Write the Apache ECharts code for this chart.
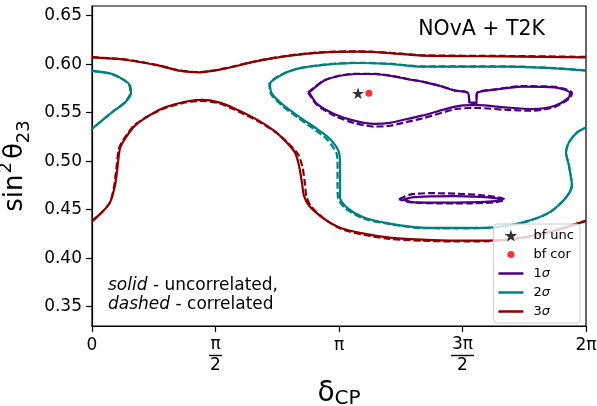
<!DOCTYPE html>
<html>
<head>
<meta charset="utf-8">
<script src="https://cdn.jsdelivr.net/npm/echarts@6/dist/echarts.min.js"></script>
<style>
    html, body { margin: 0; padding: 0; background: #fff; }
    #chart { width: 597px; height: 406px; }
</style>
</head>
<body>
<div id="chart"></div>
<script>
// x values are delta_CP in units of pi
var xTicks = [0, 0.5, 1, 1.5, 2];
var xTickLabels = ['0', '{n|π}\n{b1| }\n{d|2}', 'π', '{n|3π}\n{b3| }\n{d|2}', '2π'];
var yTicks = [0.35, 0.40, 0.45, 0.50, 0.55, 0.60, 0.65];

// best fit points
var bfUnc = [[1.077, 0.570]];
var bfCor = [[1.121, 0.570]];

// 3 sigma - upper band edge
var sig3TopUnc = [[0,0.607],[0.134,0.6046],[0.271,0.5985],[0.352,0.5933],[0.433,0.5915],[0.538,0.5954],[0.668,0.6031],[0.802,0.6088],[0.939,0.6122],[1.073,0.6129],[1.206,0.6115],[1.336,0.6088],[1.672,0.6080],[2.0,0.6070]];
var sig3TopCor = [[0,0.6072],[0.134,0.6049],[0.271,0.5988],[0.352,0.5936],[0.433,0.5918],[0.538,0.5957],[0.668,0.6034],[0.802,0.6091],[0.939,0.6125],[1.073,0.6132],[1.206,0.6118],[1.336,0.6092],[1.672,0.6085],[2.0,0.6075]];
// 3 sigma - lower band edge
var sig3BotUnc = [[0,0.4381],[0.040,0.4472],[0.073,0.4575],[0.093,0.4747],[0.101,0.4885],[0.113,0.5129],[0.134,0.5232],[0.174,0.5366],[0.231,0.5469],[0.296,0.5555],[0.377,0.5613],[0.445,0.5631],[0.514,0.5606],[0.579,0.5541],[0.668,0.5428],[0.737,0.5314],[0.789,0.5191],[0.822,0.5088],[0.838,0.4954],[0.850,0.4778],[0.858,0.4644],[0.879,0.4541],[0.939,0.4407],[1.004,0.4314],[1.101,0.4253],[1.206,0.4211],[1.336,0.4191],[1.470,0.4180],[1.607,0.4180],[1.741,0.4211],[1.874,0.4284],[2.0,0.4387]];
var sig3BotCor = [[0,0.4381],[0.040,0.4472],[0.073,0.4575],[0.090,0.4747],[0.097,0.4885],[0.109,0.5129],[0.130,0.5232],[0.170,0.5366],[0.228,0.5465],[0.296,0.5548],[0.377,0.5605],[0.445,0.5622],[0.514,0.5597],[0.579,0.5530],[0.672,0.5412],[0.745,0.5296],[0.800,0.5170],[0.835,0.5068],[0.852,0.4940],[0.862,0.4770],[0.868,0.4640],[0.888,0.4530],[0.947,0.4392],[1.012,0.4298],[1.105,0.4238],[1.206,0.4198],[1.336,0.4180],[1.470,0.4172],[1.607,0.4175],[1.741,0.4208],[1.874,0.4282],[2.0,0.4385]];

// 2 sigma - small region at left edge
var sig2LeftUnc = [[0,0.5933],[0.081,0.5899],[0.134,0.5830],[0.154,0.5778],[0.158,0.5703],[0.134,0.5606],[0.081,0.5503],[0,0.5332]];
var sig2LeftCor = [[0,0.5930],[0.081,0.5897],[0.134,0.5828],[0.152,0.5778],[0.155,0.5703],[0.132,0.5606],[0.080,0.5503],[0,0.5334]];
// 2 sigma - main region
var sig2MainUnc = [[2.0,0.5933],[1.874,0.5957],[1.672,0.5974],[1.336,0.5974],[1.206,0.6002],[1.073,0.6012],[0.939,0.5992],[0.830,0.5951],[0.761,0.5881],[0.721,0.5796],[0.729,0.5693],[0.777,0.5572],[0.842,0.5452],[0.911,0.5332],[0.964,0.5229],[1.0,0.5091],[1.004,0.4954],[1.004,0.4778],[1.004,0.4624],[1.032,0.4521],[1.101,0.4418],[1.206,0.4356],[1.336,0.4314],[1.470,0.4311],[1.607,0.4314],[1.741,0.4366],[1.850,0.4469],[1.915,0.4613],[1.943,0.4747],[1.931,0.4954],[1.919,0.5091],[1.931,0.5194],[1.964,0.5297],[2.0,0.5348]];
var sig2MainCor = [[2.0,0.5936],[1.874,0.5960],[1.672,0.5977],[1.336,0.5977],[1.206,0.6005],[1.073,0.6015],[0.939,0.5995],[0.830,0.5954],[0.761,0.5884],[0.718,0.5796],[0.725,0.5690],[0.772,0.5566],[0.836,0.5444],[0.903,0.5322],[0.955,0.5216],[0.990,0.5080],[0.994,0.4950],[0.994,0.4780],[0.996,0.4620],[1.026,0.4512],[1.097,0.4410],[1.206,0.4350],[1.336,0.4310],[1.470,0.4307],[1.607,0.4311],[1.741,0.4363],[1.850,0.4467],[1.915,0.4612],[1.943,0.4747],[1.931,0.4954],[1.919,0.5091],[1.931,0.5194],[1.964,0.5297],[2.0,0.5348]];

// 1 sigma - upper island
var sig1UpUnc = [[0.879,0.5709],[0.939,0.5830],[1.004,0.5881],[1.073,0.5899],[1.142,0.5899],[1.206,0.5881],[1.275,0.5847],[1.336,0.5820],[1.405,0.5778],[1.470,0.5727],[1.522,0.5703],[1.530,0.5603],[1.555,0.5603],[1.559,0.5703],[1.632,0.5737],[1.741,0.5768],[1.874,0.5761],[1.935,0.5703],[1.931,0.5658],[1.874,0.5572],[1.781,0.5538],[1.672,0.5555],[1.563,0.5577],[1.538,0.5577],[1.470,0.5562],[1.336,0.5469],[1.275,0.5435],[1.206,0.5394],[1.142,0.5384],[1.061,0.5418],[0.980,0.5487],[0.911,0.5590],[0.879,0.5709]];
var sig1UpCor = [[0.875,0.5709],[0.939,0.5832],[1.004,0.5883],[1.073,0.5901],[1.142,0.5901],[1.206,0.5883],[1.275,0.5849],[1.336,0.5822],[1.405,0.5780],[1.470,0.5729],[1.522,0.5705],[1.530,0.5590],[1.555,0.5590],[1.559,0.5705],[1.632,0.5741],[1.741,0.5773],[1.874,0.5767],[1.943,0.5705],[1.935,0.5650],[1.874,0.5560],[1.781,0.5520],[1.672,0.5530],[1.563,0.5548],[1.538,0.5548],[1.470,0.5535],[1.336,0.5440],[1.275,0.5405],[1.206,0.5365],[1.142,0.5357],[1.061,0.5393],[0.980,0.5470],[0.911,0.5580],[0.875,0.5709]];
// 1 sigma - lower island
var sig1LowUnc = [[1.259,0.4603],[1.296,0.4627],[1.368,0.4637],[1.470,0.4639],[1.571,0.4631],[1.632,0.4619],[1.660,0.4603],[1.632,0.4587],[1.571,0.4577],[1.470,0.4572],[1.368,0.4572],[1.296,0.4577],[1.259,0.4603]];
var sig1LowCor = [[1.243,0.4608],[1.287,0.4655],[1.368,0.4670],[1.470,0.4665],[1.571,0.4650],[1.652,0.4624],[1.672,0.4603],[1.632,0.4577],[1.530,0.4565],[1.409,0.4565],[1.287,0.4577],[1.243,0.4608]];

var C1 = '#4b0082', C2 = '#008080', C3 = '#8b0000';
var FONT = 'DejaVu Sans';
var starPath = 'path://M50,0 L61,35 L98,35 L68,57 L79,91 L50,70 L21,91 L32,57 L2,35 L39,35 Z';
var linePath = 'path://M0,0 L25,0 L25,2.5 L0,2.5 Z';
// small dot inside a 10x10 box (the two moveTo points keep the box size)
var dotPath = 'path://M0,0 M10,10 M5,2 A3,3 0 1,1 5,8 A3,3 0 1,1 5,2 Z';

function contour(name, data, color, dashed) {
    return {
        name: name,
        type: 'line',
        data: data,
        showSymbol: false,
        smooth: 0.25,
        silent: true,
        lineStyle: { color: color, width: 2.2, type: dashed ? [7, 3] : 'solid' },
        itemStyle: { color: color },
        z: dashed ? 2 : 3
    };
}

var chart = echarts.init(document.getElementById('chart'));
var option = {
    animation: false,
    textStyle: { fontFamily: FONT },
    grid: { left: 92, right: 11, top: 6, bottom: 80, outerBoundsMode: 'none', show: true, borderColor: '#000', borderWidth: 1.2, backgroundColor: 'transparent' },
    xAxis: {
        type: 'value', min: 0, max: 2,
        axisLine: { lineStyle: { color: '#000', width: 1.2 } },
        axisTick: { customValues: xTicks, length: 6, lineStyle: { color: '#000', width: 1.2 } },
        axisLabel: {
            customValues: xTicks, margin: 11, color: '#000', fontSize: 17, fontFamily: FONT,
            formatter: function (v) { return xTickLabels[Math.round(v * 2)]; },
            rich: {
                n: { fontSize: 17, lineHeight: 16, fontFamily: FONT, color: '#000' },
                d: { fontSize: 17, lineHeight: 16, fontFamily: FONT, color: '#000' },
                b1: { width: 13, height: 1.4, lineHeight: 5, backgroundColor: '#000', fontSize: 1 },
                b3: { width: 23, height: 1.4, lineHeight: 5, backgroundColor: '#000', fontSize: 1 }
            }
        },
        splitLine: { show: false },
        name: '{a|δ}{b|CP}', nameLocation: 'middle', nameGap: 48,
        nameTextStyle: {
            rich: {
                a: { fontSize: 28, fontFamily: FONT, color: '#000', lineHeight: 30 },
                b: { fontSize: 20, fontFamily: FONT, color: '#000', verticalAlign: 'bottom', lineHeight: 20 }
            }
        }
    },
    yAxis: {
        type: 'value', min: 0.33, max: 0.66,
        axisLine: { lineStyle: { color: '#000', width: 1.2 } },
        axisTick: { customValues: yTicks, length: 6, lineStyle: { color: '#000', width: 1.2 } },
        axisLabel: {
            customValues: yTicks, margin: 10, color: '#000', fontSize: 17, fontFamily: FONT,
            formatter: function (v) { return v.toFixed(2); }
        },
        splitLine: { show: false },
        name: '{a|sin}{s|2}{a|θ}{b|23}', nameLocation: 'middle', nameGap: 58,
        nameTextStyle: {
            rich: {
                a: { fontSize: 26, fontFamily: FONT, color: '#000', lineHeight: 36 },
                s: { fontSize: 18, fontFamily: FONT, color: '#000', verticalAlign: 'top', lineHeight: 20, padding: [0, 3, 0, 1] },
                b: { fontSize: 18, fontFamily: FONT, color: '#000', verticalAlign: 'bottom', lineHeight: 20 }
            }
        }
    },
    legend: {
        right: 17, top: 224, orient: 'vertical',
        itemWidth: 25, itemHeight: 12, itemGap: 6,
        symbolKeepAspect: true,
        padding: [5, 6, 5, 5],
        backgroundColor: 'rgba(255,255,255,0.8)', borderColor: '#ccc', borderWidth: 1, borderRadius: 3,
        textStyle: { fontSize: 13, fontFamily: FONT, color: '#000', padding: [0, 0, 0, 5],
            rich: { i: { fontSize: 13, fontStyle: 'italic', fontFamily: FONT, color: '#000' } } },
        formatter: function (name) { return name.replace('σ', '{i|σ}'); },
        data: [
            { name: 'bf unc', icon: starPath, itemStyle: { color: '#000' } },
            { name: 'bf cor', icon: dotPath, itemStyle: { color: 'red' } },
            { name: '1σ', icon: linePath, itemStyle: { color: C1 } },
            { name: '2σ', icon: linePath, itemStyle: { color: C2 } },
            { name: '3σ', icon: linePath, itemStyle: { color: C3 } }
        ]
    },
    graphic: [
        { type: 'text', right: 52, top: 19, style: { text: 'NOvA + T2K', font: '20.5px "DejaVu Sans"', fill: '#000' } },
        { type: 'text', left: 108, top: 276, style: {
            text: '{i|solid} - uncorrelated,\n{i|dashed} - correlated',
            font: '17px "DejaVu Sans"', fill: '#000', lineHeight: 19,
            rich: { i: { fontStyle: 'italic', fontSize: 17, fontFamily: FONT, lineHeight: 19 } }
        } }
    ],
    series: [
        contour('3σ', sig3TopUnc, C3, false),
        contour('3σ c', sig3TopCor, C3, true),
        contour('3σ', sig3BotUnc, C3, false),
        contour('3σ c', sig3BotCor, C3, true),
        contour('2σ', sig2LeftUnc, C2, false),
        contour('2σ c', sig2LeftCor, C2, true),
        contour('2σ', sig2MainUnc, C2, false),
        contour('2σ c', sig2MainCor, C2, true),
        contour('1σ', sig1UpUnc, C1, false),
        contour('1σ c', sig1UpCor, C1, true),
        contour('1σ', sig1LowUnc, C1, false),
        contour('1σ c', sig1LowCor, C1, true),
        { name: 'bf unc', type: 'scatter', data: bfUnc, symbol: starPath, symbolSize: 12, itemStyle: { color: '#000' }, z: 5 },
        { name: 'bf cor', type: 'scatter', data: bfCor, symbol: 'circle', symbolSize: 7, itemStyle: { color: 'red' }, z: 5 }
    ]
};
chart.setOption(option);
</script>
</body>
</html>
